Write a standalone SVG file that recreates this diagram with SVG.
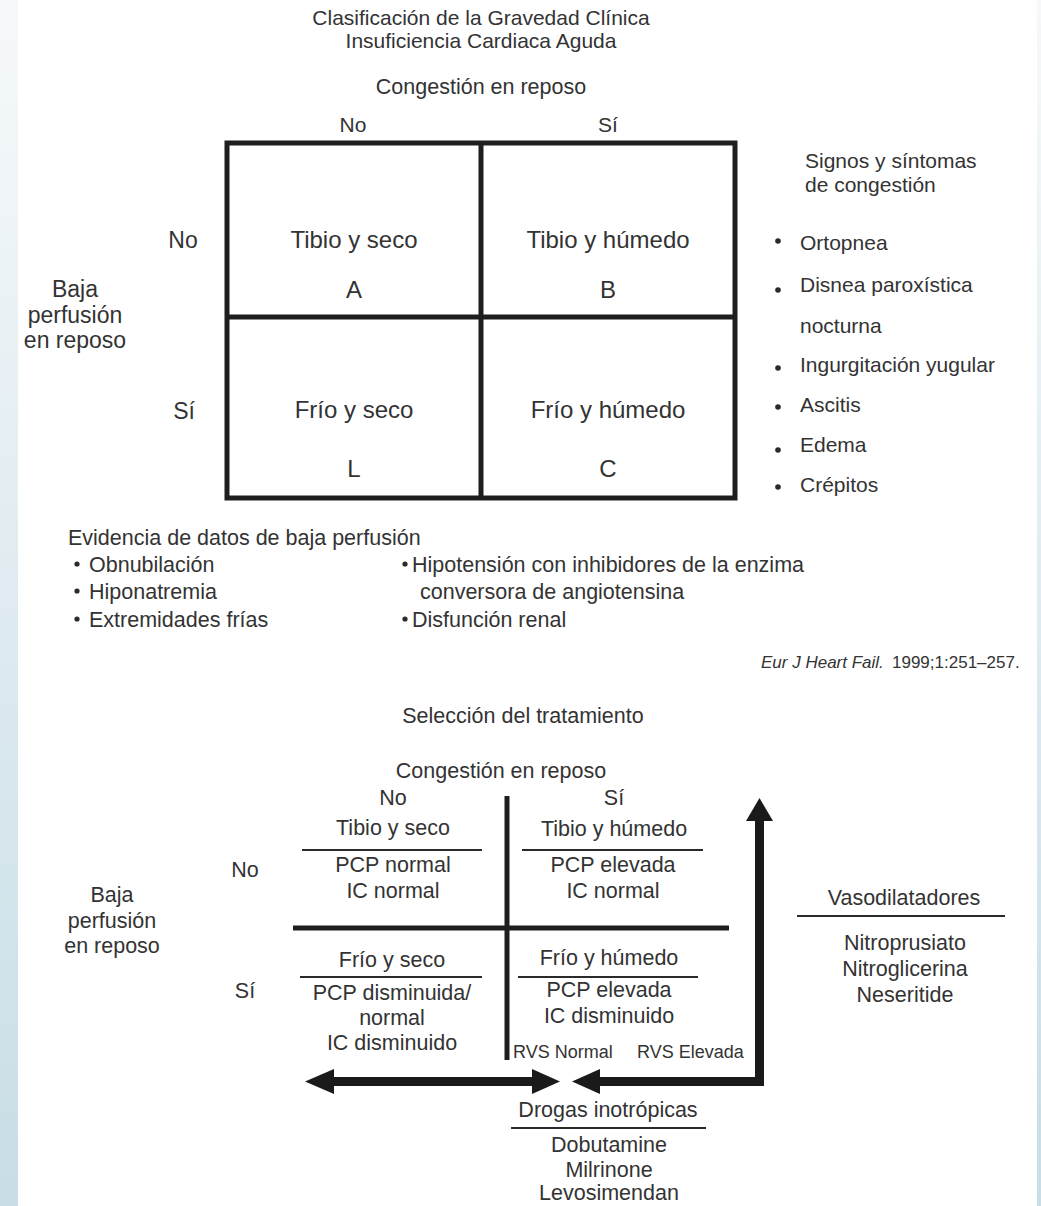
<svg xmlns="http://www.w3.org/2000/svg" width="1041" height="1206" viewBox="0 0 1041 1206">
<style>
text{font-family:"Liberation Sans",Arial,sans-serif;fill:#333;}
.t21{font-size:21px}
.t215{font-size:21.5px}
.t23{font-size:23px}
.t24{font-size:24px}
.m{text-anchor:middle}
.grid{fill:none;stroke:#1e1e1e;stroke-width:5}
.ul{stroke:#2a2a2a;stroke-width:1.8}
.bul{fill:#2a2a2a}
.thick{stroke:#1e1e1e;stroke-width:5}
.shaft{stroke:#1a1a1a;stroke-width:9;fill:none}
.head{fill:#1a1a1a}
</style>
<defs>
<linearGradient id="strip" x1="0" y1="0" x2="0" y2="1">
<stop offset="0" stop-color="#f6f9fb"/>
<stop offset="1" stop-color="#c8dde6"/>
</linearGradient>
</defs>
<rect width="1041" height="1206" fill="#ffffff"/>
<rect x="0" y="0" width="18" height="1206" fill="url(#strip)"/>
<rect x="1037" y="0" width="4" height="1206" fill="url(#strip)"/>

<g id="title">
<text class="t21 m" x="481" y="25">Clasificación de la Gravedad Clínica</text>
<text class="t21 m" x="481" y="48">Insuficiencia Cardiaca Aguda</text>
</g>

<g id="top-axis">
<text class="t215 m" x="481" y="94">Congestión en reposo</text>
<text class="t21 m" x="353" y="132">No</text>
<text class="t21 m" x="608" y="132">Sí</text>
<text class="t23 m" x="183" y="248">No</text>
<text class="t23 m" x="184" y="419">Sí</text>
<text class="t23 m" x="75" y="297">Baja</text>
<text class="t23 m" x="75" y="323">perfusión</text>
<text class="t23 m" x="75" y="348">en reposo</text>
</g>

<g id="top-grid">
<rect class="grid" x="227" y="143" width="508" height="355"/>
<line class="grid" x1="481" y1="143" x2="481" y2="498"/>
<line class="grid" x1="227" y1="317" x2="735" y2="317"/>
</g>
<g id="cell-A">
<text class="t24 m" x="354" y="248">Tibio y seco</text>
<text class="t24 m" x="354" y="298">A</text>
</g>
<g id="cell-B">
<text class="t24 m" x="608" y="248">Tibio y húmedo</text>
<text class="t24 m" x="608" y="298">B</text>
</g>
<g id="cell-L">
<text class="t24 m" x="354" y="418">Frío y seco</text>
<text class="t24 m" x="354" y="477">L</text>
</g>
<g id="cell-C">
<text class="t24 m" x="608" y="418">Frío y húmedo</text>
<text class="t24 m" x="608" y="477">C</text>
</g>

<g id="congestion-signs">
<text class="t21" x="805" y="168">Signos y síntomas</text>
<text class="t21" x="805" y="192">de congestión</text>
<circle class="bul" cx="778" cy="241" r="2.8"/>
<text class="t21" x="800" y="250">Ortopnea</text>
<circle class="bul" cx="778" cy="290" r="2.8"/>
<text class="t21" x="800" y="292">Disnea paroxística</text>
<text class="t21" x="800" y="333">nocturna</text>
<circle class="bul" cx="778" cy="368" r="2.8"/>
<text class="t21" x="800" y="372">Ingurgitación yugular</text>
<circle class="bul" cx="778" cy="407" r="2.8"/>
<text class="t21" x="800" y="412">Ascitis</text>
<circle class="bul" cx="778" cy="450" r="2.8"/>
<text class="t21" x="800" y="452">Edema</text>
<circle class="bul" cx="778" cy="487" r="2.8"/>
<text class="t21" x="800" y="492">Crépitos</text>
</g>

<g id="low-perfusion">
<text class="t215" x="68" y="545">Evidencia de datos de baja perfusión</text>
<circle class="bul" cx="77" cy="564" r="2.6"/>
<text class="t215" x="89" y="572">Obnubilación</text>
<circle class="bul" cx="77" cy="591" r="2.6"/>
<text class="t215" x="89" y="599">Hiponatremia</text>
<circle class="bul" cx="77" cy="619" r="2.6"/>
<text class="t215" x="89" y="627">Extremidades frías</text>
<circle class="bul" cx="405" cy="564" r="2.6"/>
<text class="t215" x="412" y="572">Hipotensión con inhibidores de la enzima</text>
<text class="t215" x="420" y="599">conversora de angiotensina</text>
<circle class="bul" cx="405" cy="619" r="2.6"/>
<text class="t215" x="412" y="627">Disfunción renal</text>
</g>

<g id="citation">
<text x="761" y="668" style="font-size:17px;font-style:italic">Eur J Heart Fail.</text>
<text x="892" y="668" style="font-size:17px">1999;1:251–257.</text>
</g>

<g id="treatment-header">
<text class="t215 m" x="523" y="723">Selección del tratamiento</text>
<text class="t215 m" x="501" y="778">Congestión en reposo</text>
<text class="t215 m" x="393" y="805">No</text>
<text class="t215 m" x="614" y="805">Sí</text>
<text class="t215 m" x="245" y="877">No</text>
<text class="t215 m" x="245" y="998">Sí</text>
<text class="t215 m" x="112" y="902">Baja</text>
<text class="t215 m" x="112" y="928">perfusión</text>
<text class="t215 m" x="112" y="953">en reposo</text>
</g>

<g id="treatment-grid">
<line class="thick" x1="507" y1="796" x2="507" y2="1060"/>
<line class="thick" x1="293" y1="928" x2="729" y2="928"/>
</g>
<g id="q-warm-dry">
<text class="t215 m" x="393" y="835">Tibio y seco</text>
<line class="ul" x1="302" y1="850" x2="482" y2="850"/>
<text class="t215 m" x="393" y="872">PCP normal</text>
<text class="t215 m" x="393" y="898">IC normal</text>
</g>
<g id="q-warm-wet">
<text class="t215 m" x="614" y="836">Tibio y húmedo</text>
<line class="ul" x1="522" y1="850" x2="703" y2="850"/>
<text class="t215 m" x="613" y="872">PCP elevada</text>
<text class="t215 m" x="613" y="898">IC normal</text>
</g>
<g id="q-cold-dry">
<text class="t215 m" x="392" y="967">Frío y seco</text>
<line class="ul" x1="300" y1="977" x2="482" y2="977"/>
<text class="t215 m" x="392" y="1000">PCP disminuida/</text>
<text class="t215 m" x="392" y="1025">normal</text>
<text class="t215 m" x="392" y="1050">IC disminuido</text>
</g>
<g id="q-cold-wet">
<text class="t215 m" x="609" y="965">Frío y húmedo</text>
<line class="ul" x1="518" y1="977" x2="698" y2="977"/>
<text class="t215 m" x="609" y="997">PCP elevada</text>
<text class="t215 m" x="609" y="1023">IC disminuido</text>
<text x="513" y="1058" style="font-size:18px">RVS Normal</text>
<text x="637" y="1058" style="font-size:18px">RVS Elevada</text>
</g>

<g id="vasodilators">
<text class="t215 m" x="904" y="905">Vasodilatadores</text>
<line class="ul" x1="797" y1="916" x2="1005" y2="916"/>
<text class="t215 m" x="905" y="950">Nitroprusiato</text>
<text class="t215 m" x="905" y="976">Nitroglicerina</text>
<text class="t215 m" x="905" y="1002">Neseritide</text>
</g>

<g id="inotropes">
<text class="t215 m" x="608" y="1117">Drogas inotrópicas</text>
<line class="ul" x1="511" y1="1128" x2="706" y2="1128"/>
<text class="t215 m" x="609" y="1152">Dobutamine</text>
<text class="t215 m" x="609" y="1177">Milrinone</text>
<text class="t215 m" x="609" y="1200">Levosimendan</text>
</g>

<g id="connectors">
<line class="shaft" x1="330" y1="1081.5" x2="536" y2="1081.5"/>
<polygon class="head" points="305,1081.5 334,1069 334,1094"/>
<polygon class="head" points="560,1081.5 532,1069 532,1094"/>
<path class="shaft" d="M597,1081.5 H759.5 V818" stroke-linejoin="miter"/>
<polygon class="head" points="572,1081.5 600,1069 600,1094"/>
<polygon class="head" points="759.5,798 746,821 773,821"/>
</g>
</svg>
